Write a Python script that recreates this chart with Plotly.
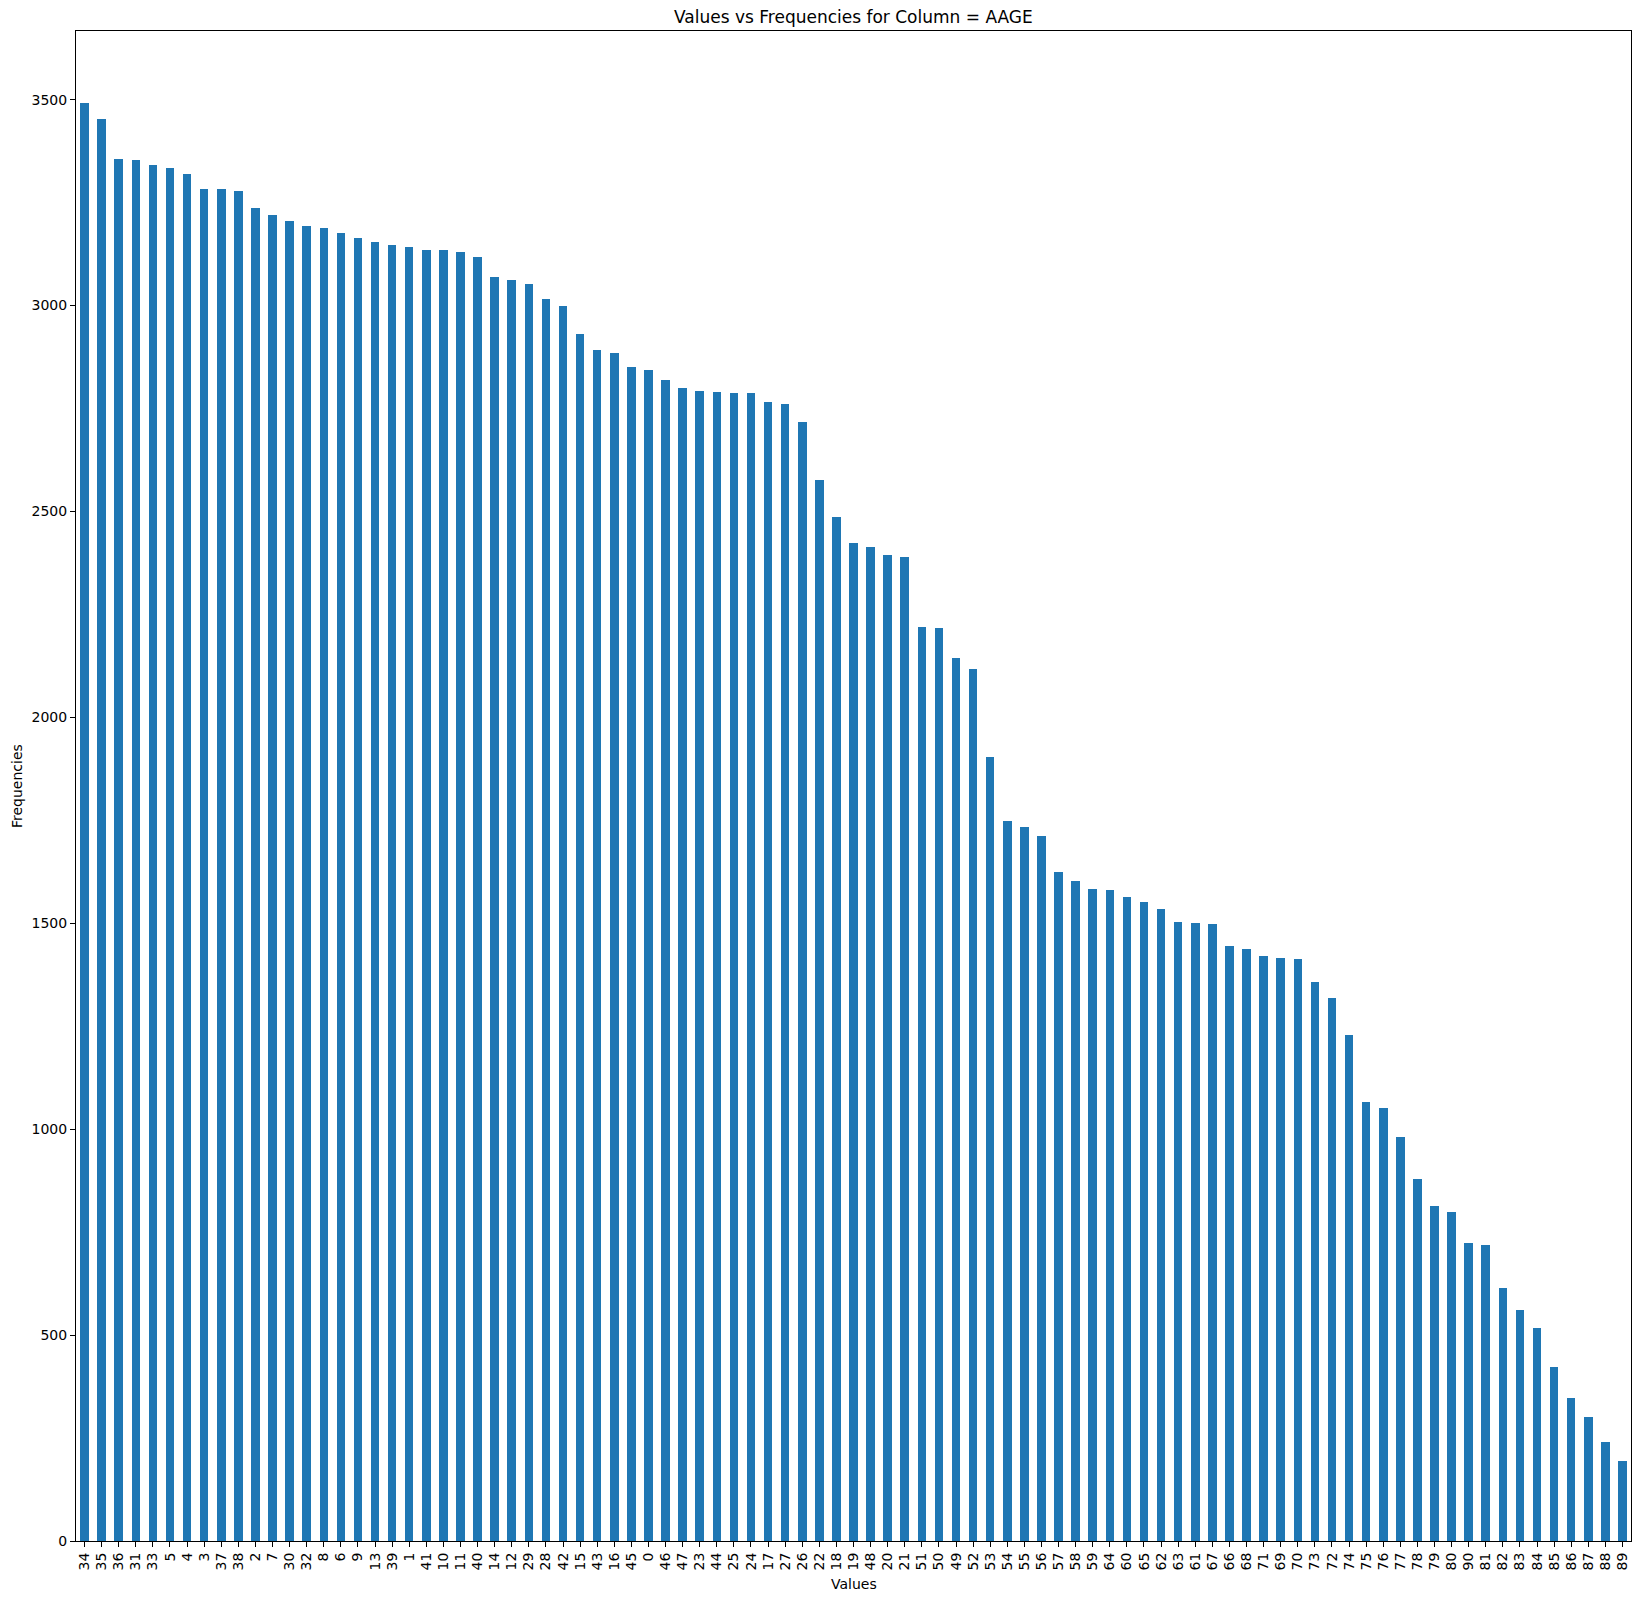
"""
plot.py — bar chart of value counts for column AAGE (sorted by frequency).
"""

import plotly.graph_objects as go

# Value labels in the order they appear (descending frequency).
VALUES = [
    34, 35, 36, 31, 33, 5, 4, 3, 37, 38,
    2, 7, 30, 32, 8, 6, 9, 13, 39, 1,
    41, 10, 11, 40, 14, 12, 29, 28, 42, 15,
    43, 16, 45, 0, 46, 47, 23, 44, 25, 24,
    17, 27, 26, 22, 18, 19, 48, 20, 21, 51,
    50, 49, 52, 53, 54, 55, 56, 57, 58, 59,
    64, 60, 65, 62, 63, 61, 67, 66, 68, 71,
    69, 70, 73, 72, 74, 75, 76, 77, 78, 79,
    80, 90, 81, 82, 83, 84, 85, 86, 87, 88, 89,
]

FREQUENCIES = [
    3492, 3454, 3356, 3354, 3342, 3335, 3320, 3282, 3282, 3279,
    3238, 3221, 3206, 3192, 3189, 3175, 3165, 3155, 3146, 3141,
    3136, 3136, 3131, 3117, 3070, 3063, 3053, 3015, 2999, 2931,
    2893, 2885, 2851, 2844, 2819, 2800, 2793, 2790, 2788, 2788,
    2766, 2761, 2717, 2577, 2487, 2424, 2414, 2394, 2390, 2220,
    2217, 2144, 2118, 1904, 1748, 1734, 1712, 1625, 1603, 1583,
    1581, 1564, 1552, 1535, 1503, 1501, 1498, 1445, 1438, 1421,
    1416, 1413, 1357, 1319, 1229, 1066, 1051, 981, 879, 813,
    800, 724, 719, 614, 561, 517, 423, 348, 302, 241, 195,
]

Y_TICKS = [0, 500, 1000, 1500, 2000, 2500, 3000, 3500]

_BAR = "#1f77b4"  # matplotlib default blue
_FONT = "DejaVu Sans"

labels = [str(v) for v in VALUES]

fig = go.Figure()
fig.add_trace(
    go.Bar(
        x=labels,
        y=FREQUENCIES,
        width=0.5,
        marker=dict(color=_BAR, line=dict(width=0)),
        showlegend=False,
    )
)

axis_common = dict(
    showline=True,
    linecolor="black",
    linewidth=1,
    mirror=True,
    showgrid=False,
    zeroline=False,
    ticks="outside",
    ticklen=5,
    tickwidth=1,
    tickcolor="black",
    tickfont=dict(family=_FONT, size=14, color="black"),
    automargin=False,
)

fig.update_layout(
    width=1641,
    height=1602,
    paper_bgcolor="white",
    plot_bgcolor="white",
    font=dict(family=_FONT, color="black", size=14),
    margin=dict(l=76, r=10, t=31, b=61, autoexpand=False),
    bargap=0,
    xaxis=dict(
        type="category",
        categoryorder="array",
        categoryarray=labels,
        range=[-0.5, len(labels) - 0.5],
        tickmode="array",
        tickvals=labels,  # every label, no auto-thinning
        ticktext=labels,
        tickangle=-90,
        **axis_common,
    ),
    yaxis=dict(
        range=[0, max(FREQUENCIES) * 1.05],
        tickvals=Y_TICKS,
        **axis_common,
    ),
)

# Title and axis labels placed like matplotlib's defaults.
fig.add_annotation(
    text="Values vs Frequencies for Column = AAGE",
    xref="paper", yref="paper", x=0.5, y=1,
    xanchor="center", yanchor="bottom", yshift=2,
    showarrow=False,
    font=dict(family=_FONT, size=17, color="black"),
)
fig.add_annotation(
    text="Values",
    xref="paper", yref="paper", x=0.5, y=0,
    xanchor="center", yanchor="middle", yshift=-43,
    showarrow=False,
    font=dict(family=_FONT, size=14, color="black"),
)
fig.add_annotation(
    text="Frequencies",
    xref="paper", yref="paper", x=0, y=0.5,
    xanchor="center", yanchor="middle", xshift=-59,
    textangle=-90,
    showarrow=False,
    font=dict(family=_FONT, size=14, color="black"),
)

# Drop the browser's default body margin so the 1641x1602 figure fits exactly.
fig.write_html(
    "out.html",
    config={"displayModeBar": False},
    post_script="document.body.style.margin='0';document.body.style.overflow='hidden';",
)
